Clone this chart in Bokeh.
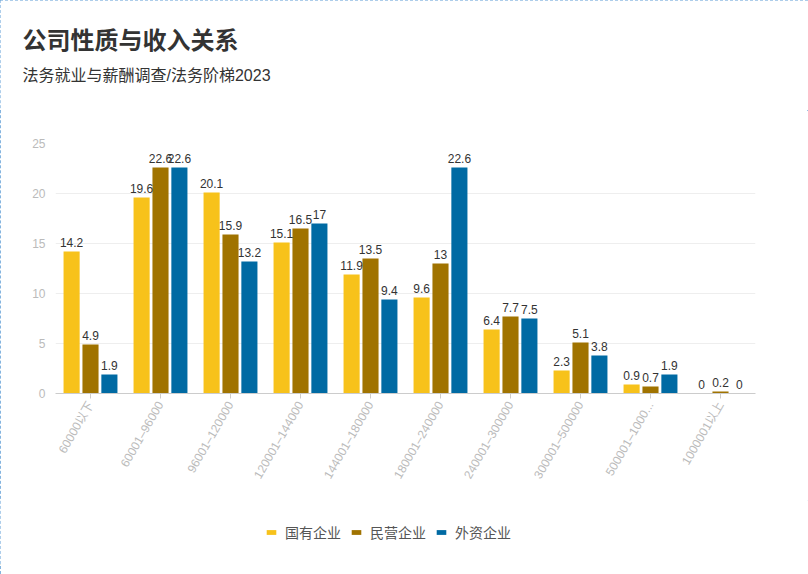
from bokeh.plotting import figure
from bokeh.layouts import column
from bokeh.models import FactorRange, ColumnDataSource, LabelSet, Label, Legend, LegendItem
from bokeh.transform import dodge
from bokeh.core.properties import value
from bokeh.embed import file_html
from bokeh.resources import INLINE
import math

categories = ["60000以下", "60001–96000", "96001–120000", "120001–144000", "144001–180000",
              "180001–240000", "240001–300000", "300001–500000", "500001–1000...", "1000001以上"]
series_names = ["国有企业", "民营企业", "外资企业"]
state_owned = [14.2, 19.6, 20.1, 15.1, 11.9, 9.6, 6.4, 2.3, 0.9, 0]
private = [4.9, 22.6, 15.9, 16.5, 13.5, 13, 7.7, 5.1, 0.7, 0.2]
foreign = [1.9, 22.6, 13.2, 17, 9.4, 22.6, 7.5, 3.8, 1.9, 0]
y_ticks = [0, 5, 10, 15, 20, 25]
title_text = "公司性质与收入关系"
subtitle_text = "法务就业与薪酬调查/法务阶梯2023"

colors = ["#f7c21b", "#a07300", "#006aa3"]
FONT = "'Liberation Sans', 'Noto Sans CJK SC', sans-serif"
CJK = "'Noto Sans CJK SC', sans-serif"

W = 808
H_TITLE, H_MAIN, H_LEG = 110, 390, 74


def blank(height, **borders):
    f = figure(width=W, height=height, output_backend="svg", toolbar_location=None,
               x_range=(0, 1), y_range=(0, 1), x_axis_location=None, y_axis_location=None,
               frame_align=False, **borders)
    f.grid.grid_line_color = None
    f.outline_line_color = None
    f.border_fill_color = "white"
    f.background_fill_color = "white"
    return f


# title strip (frame covers the whole strip; label coords from its bottom-left)
pt = blank(H_TITLE, min_border_left=0, min_border_right=0, min_border_top=0, min_border_bottom=0)
pt.add_layout(Label(x=22, y=H_TITLE - 38, x_units="screen", y_units="screen", text=title_text,
                    text_font=CJK, text_font_size="24px", text_font_style="bold",
                    text_color="#333333", text_baseline="middle"))
pt.add_layout(Label(x=22, y=H_TITLE - 75, x_units="screen", y_units="screen", text=subtitle_text,
                    text_font=FONT, text_font_size="16px",
                    text_color="#333333", text_baseline="middle"))

# main chart
p = figure(width=W, height=H_MAIN, x_range=FactorRange(*categories, range_padding=0),
           y_range=(0, 25), output_backend="svg", toolbar_location=None, frame_align=False,
           min_border_left=55, min_border_right=53, min_border_top=33, min_border_bottom=107)
p.outline_line_color = None
p.background_fill_color = "white"
p.border_fill_color = "white"

src = ColumnDataSource(dict(cat=categories, s0=state_owned, s1=private, s2=foreign,
                            l0=[str(v) for v in state_owned], l1=[str(v) for v in private],
                            l2=[str(v) for v in foreign]))

offsets = [-0.27, 0, 0.27]
for i, off in enumerate(offsets):
    p.vbar(x=dodge("cat", off, range=p.x_range), top=f"s{i}", width=0.23, source=src,
           fill_color=colors[i], line_color=None)
    ls = LabelSet(x=dodge("cat", off, range=p.x_range), y=f"s{i}", text=f"l{i}", source=src,
                  text_align="center", text_baseline="bottom", y_offset=5,
                  text_font_size="12px", text_color="#333333", text_font=value(FONT))
    p.add_layout(ls)

p.yaxis.ticker = y_ticks
p.yaxis.axis_line_color = None
p.yaxis.major_tick_line_color = None
p.yaxis.major_tick_out = 0
p.yaxis.major_tick_in = 0
p.yaxis.minor_tick_line_color = None
p.yaxis.major_label_text_color = "#bbbbbb"
p.yaxis.major_label_text_font_size = "12px"
p.yaxis.major_label_text_font = FONT
p.yaxis.major_label_standoff = 10

p.xaxis.axis_line_color = "#cccccc"
p.xaxis.major_tick_line_color = "#cccccc"
p.xaxis.major_tick_out = 5
p.xaxis.major_tick_in = 0
p.xaxis.major_label_orientation = math.pi / 3
p.xaxis.major_label_text_color = "#bbbbbb"
p.xaxis.major_label_text_font_size = "12px"
p.xaxis.major_label_text_font = FONT
p.xaxis.major_label_standoff = 4

p.xgrid.grid_line_color = None
p.ygrid.grid_line_color = "#eeeeee"

# legend strip below the chart
p2 = blank(H_LEG, min_border_left=0, min_border_right=32, min_border_top=0, min_border_bottom=10)
items = []
for i in range(3):
    # legend-only renderer, kept outside the visible range
    r = p2.vbar(x=[-5], top=[-5], bottom=[-6], width=0.1, fill_color=colors[i], line_color=None)
    items.append(LegendItem(label=series_names[i], renderers=[r]))
legend = Legend(items=items, orientation="horizontal", location="center", border_line_color=None,
                background_fill_alpha=0, glyph_width=12, glyph_height=6, label_height=16,
                label_text_font=CJK, label_text_font_size="14px", label_text_color="#555555",
                spacing=9, label_standoff=8, padding=2, margin=0)
p2.add_layout(legend, "center")

layout = column(pt, p, p2, spacing=0)
layout.styles = {"outline": "1px dashed #5b9bd5", "outline-offset": "-1px"}

open("out.html", "w").write(file_html(layout, INLINE))
